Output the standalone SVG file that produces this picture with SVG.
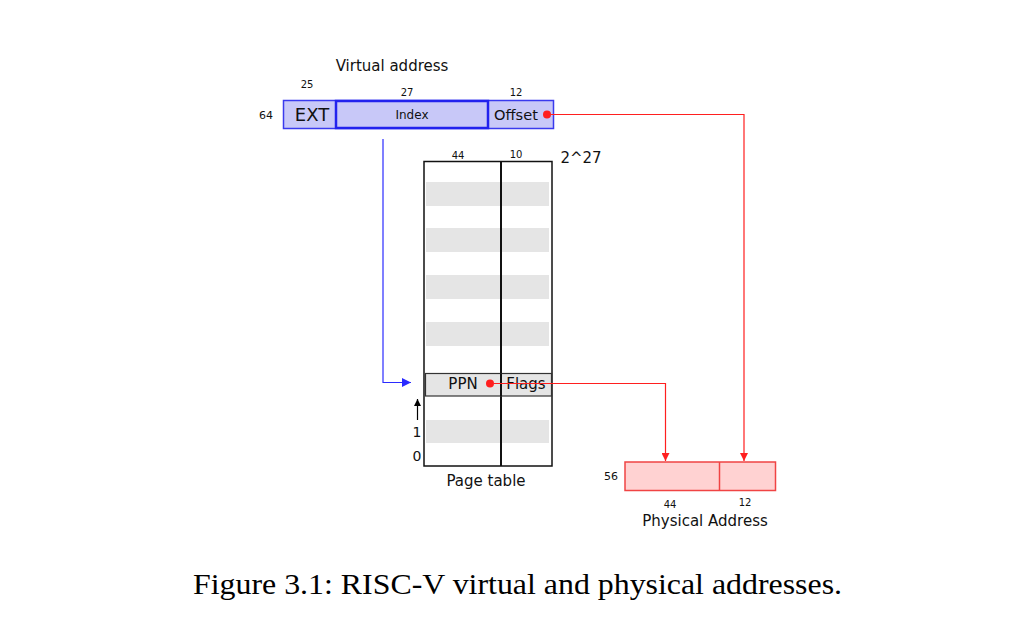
<svg xmlns="http://www.w3.org/2000/svg" width="1036" height="644" viewBox="0 0 1036 644">
<style>
text{font-family:"DejaVu Sans","Liberation Sans",sans-serif;fill:#111}
.s10{font-size:10px}
.s11{font-size:11px}
.s15{font-size:15px}
.stripe{fill:#e5e5e5}
.va{fill:#c8c8f8;stroke:#3a3aee;stroke-width:1.5}
.pa{fill:#ffd2d2;stroke:#f04444;stroke-width:1.5}
.cap{font-family:"Liberation Serif","Times New Roman",serif;font-size:30px;fill:#000}
</style>
<defs>
<marker id="ar" viewBox="0 0 10 10" refX="10" refY="5" markerWidth="8" markerHeight="8" markerUnits="userSpaceOnUse" orient="auto"><path d="M0,0L10,5L0,10z" fill="#ff1f1f"/></marker>
<marker id="ab" viewBox="0 0 10 10" refX="10" refY="5" markerWidth="9" markerHeight="9" markerUnits="userSpaceOnUse" orient="auto"><path d="M0,0L10,5L0,10z" fill="#2b2bff"/></marker>
<marker id="ak" viewBox="0 0 10 10" refX="10" refY="5" markerWidth="7" markerHeight="7" markerUnits="userSpaceOnUse" orient="auto"><path d="M0,0L10,5L0,10z" fill="#000"/></marker>
</defs>
<rect width="1036" height="644" fill="#fff"/>

<g id="virtual-address">
<text class="s15" x="392" y="71" text-anchor="middle">Virtual address</text>
<text class="s10" x="307" y="88" text-anchor="middle">25</text>
<text class="s10" x="407" y="96" text-anchor="middle">27</text>
<text class="s10" x="516" y="96" text-anchor="middle">12</text>
<text class="s11" x="266" y="119" text-anchor="middle">64</text>
<rect class="va" x="283.5" y="100.5" width="270" height="28"/>
<rect x="336" y="101" width="152" height="27" fill="#c8c8f8" stroke="#2222ee" stroke-width="2.5"/>
<text x="312" y="121" text-anchor="middle" style="font-size:18px">EXT</text>
<text x="412" y="119" text-anchor="middle" style="font-size:12px">Index</text>
<text x="516" y="120" text-anchor="middle" style="font-size:14.6px">Offset</text>
<circle cx="547" cy="114.5" r="4" fill="#ff1f1f"/>
</g>

<g id="page-table">
<text class="s10" x="458" y="159" text-anchor="middle">44</text>
<text class="s10" x="516" y="158" text-anchor="middle">10</text>
<text x="581" y="163" text-anchor="middle" style="font-size:15px">2^27</text>
<rect class="stripe" x="426" y="182" width="123" height="24"/>
<rect class="stripe" x="426" y="228" width="123" height="24"/>
<rect class="stripe" x="426" y="275" width="123" height="24"/>
<rect class="stripe" x="426" y="322" width="123" height="24"/>
<rect class="stripe" x="426" y="420" width="123" height="23"/>
<rect x="424" y="161.5" width="128" height="304.5" fill="none" stroke="#111" stroke-width="1.5"/>
<line x1="501" y1="161.5" x2="501" y2="466" stroke="#111" stroke-width="2"/>
<g id="pte">
<rect x="425.5" y="373.5" width="126" height="22.5" fill="#e5e5e5" stroke="#333" stroke-width="1.2"/>
<line x1="501" y1="373.5" x2="501" y2="396" stroke="#111" stroke-width="2"/>
<text class="s15" x="463" y="389" text-anchor="middle">PPN</text>
<text class="s15" x="526" y="389" text-anchor="middle">Flags</text>
<circle cx="490" cy="383.5" r="4" fill="#ff1f1f"/>
</g>
<text x="417" y="437" text-anchor="middle" style="font-size:14px">1</text>
<text x="417" y="461" text-anchor="middle" style="font-size:14px">0</text>
<text class="s15" x="486" y="486" text-anchor="middle">Page table</text>
</g>

<g id="physical-address">
<rect class="pa" x="625" y="462" width="150.5" height="28.5"/>
<line x1="719.5" y1="462" x2="719.5" y2="490.5" stroke="#f04444" stroke-width="1.5"/>
<text class="s11" x="611" y="480" text-anchor="middle">56</text>
<text class="s10" x="670" y="508" text-anchor="middle">44</text>
<text class="s10" x="745" y="506" text-anchor="middle">12</text>
<text class="s15" x="705" y="526" text-anchor="middle">Physical Address</text>
</g>

<g id="connectors" fill="none">
<polyline points="383,139 383,382.5 411,382.5" stroke="#2b2bff" stroke-width="1.2" marker-end="url(#ab)"/>
<polyline points="551,114.5 744,114.5 744,461" stroke="#ff1f1f" stroke-width="1.2" marker-end="url(#ar)"/>
<polyline points="494,383.5 665.5,383.5 665.5,461" stroke="#ff1f1f" stroke-width="1.2" marker-end="url(#ar)"/>
<line x1="417.5" y1="420" x2="417.5" y2="399" stroke="#000" stroke-width="1.2" marker-end="url(#ak)"/>
</g>

<text class="cap" x="517.5" y="594" text-anchor="middle" textLength="649" lengthAdjust="spacingAndGlyphs">Figure 3.1: RISC-V virtual and physical addresses.</text>
</svg>
